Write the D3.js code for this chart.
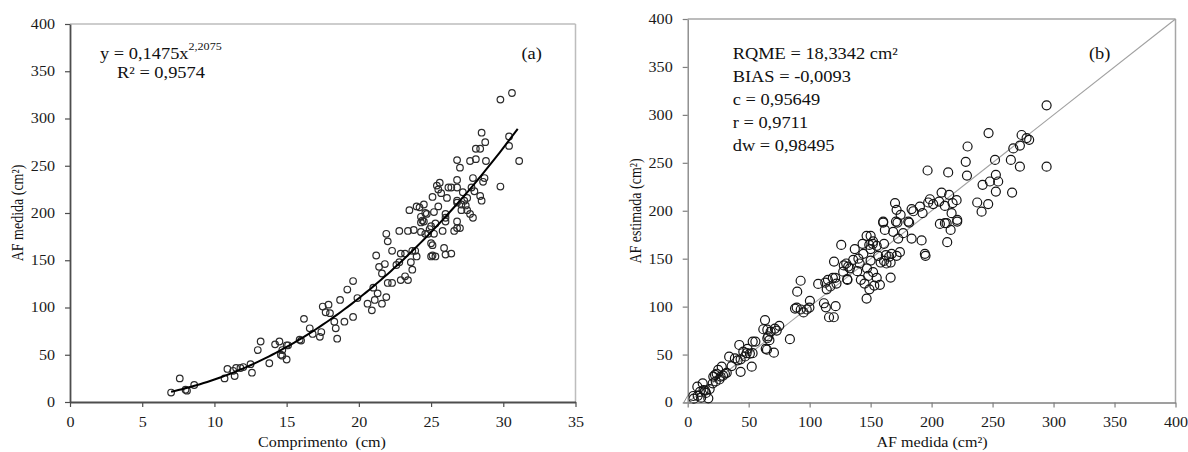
<!DOCTYPE html>
<html><head><meta charset="utf-8">
<script src="https://cdn.jsdelivr.net/npm/d3@7"></script>
<style>body{margin:0;background:#fff}svg{display:block;font-family:"Liberation Serif","Times New Roman",serif}</style>
</head><body><svg id="c" width="1188" height="452"></svg>
<script>
// ---- Data (a): comprimento (cm) vs AF medida (cm²)
const comprimento = [7.0,7.6,8.0,8.1,8.6,10.7,10.9,11.3,11.4,11.5,11.8,12.0,12.5,12.6,13.0,13.2,13.8,14.2,14.5,14.6,14.7,14.7,15.0,15.0,15.1,15.9,16.0,16.2,16.6,16.8,17.3,17.4,17.5,17.7,17.9,18.0,18.3,18.4,18.5,18.7,19.0,19.2,19.6,19.6,19.9,20.6,20.9,21.0,21.1,21.2,21.3,21.4,21.6,21.6,21.8,21.9,21.9,22.0,22.0,22.3,22.3,22.6,22.8,22.8,22.9,22.9,23.2,23.2,23.4,23.4,23.5,23.6,23.7,23.7,23.8,23.9,24.0,24.0,24.2,24.3,24.3,24.3,24.4,24.5,24.5,24.6,24.6,24.7,24.8,24.9,25.0,25.0,25.0,25.1,25.1,25.1,25.2,25.2,25.3,25.3,25.4,25.5,25.5,25.6,25.7,25.8,25.9,26.0,26.0,26.0,26.0,26.1,26.2,26.4,26.4,26.6,26.8,26.8,26.8,26.8,26.8,26.8,26.8,27.0,27.0,27.1,27.1,27.2,27.3,27.4,27.5,27.5,27.7,27.7,27.8,27.9,27.9,28.0,28.1,28.1,28.4,28.4,28.5,28.5,28.6,28.7,28.75,28.8,29.8,29.8,30.4,30.4,30.6,31.1];
const afMedidaA = [10,25,13,12,18,25,35,33,27.5,36,36,37,40,31,55,64,41,61,64,50,49,55,60,45,60,66,65,88,78,72,69,74,101,95,103,94,85,78,67,108,85,119,128,90,110,104,97,121,108,155,115,143,136,104,146,111,178,170,126,160,126,145,148,181,157,129,133,157,129,181,203,148,140,160,182,160,154,207,206,190,196,180,192,209,191,200,178,199,178,183,168,154,186,166,217,155,201,178,189,154,229,225,207,232,221,181,163,199,195,191,156,216,227,227,157,181,256,235,227,213,211,191,184,248,184,209,203,222,213,208,216,203,255,199,227,237,195,223,268,257,268,218,285,213,233,237,275,255,320,228,281,271,327,255];
const coefA = 0.1475, expoA = 2.2075;
const fitRange = [7, 31];

// ---- Data (b): AF medida vs AF estimada (cm²)
const afMedidaB = [4.6,5,7.9,8.2,10,11,12.3,13,14.2,15,16.9,18,20.5,21,22.4,23,23.8,25,26,27,27.9,29,30.5,32,34,36,38.7,41,42.3,43.4,43.4,45.6,47,48.3,49,51,52.5,53.2,53.3,55.5,
62,63.4,64,65,65.3,65.3,66,67,68,70.7,71.5,73,75.1,83.8,88,89.4,89.8,92.6,92.7,95,97.6,99.8,
100.2,107,111.7,112.8,113.3,114,115,115.9,117,119,119.8,120,121,121.3,122,125.9,127.5,128,130,130.8,131,131.6,133,135.7,137,139,140,141,142,143.4,144,145,146.7,146.7,147,148,148.9,149,150,150,150,151.8,152,152,153,155,155,156.2,
157.6,158.2,160.3,160.3,161,161,161.7,162.5,163,165.2,166.4,166.4,167.2,168.5,170,170.8,171.3,171.3,172,172.6,174,174.6,176.7,180.9,181.6,183.6,183.6,185,190.4,191.8,192.6,194.5,195,196.7,197.2,198.6,201.3,206.2,206.8,208.2,210.9,210.9,212.3,212.8,213.6,214.4,215.6,216.4,217.2,220.5,221,221,
228,229,229.5,237.4,241,241.8,246.4,246.7,247.8,252,252.7,252.7,254.6,265,266,267,272.4,272.4,273.8,277.9,280,294.3,294.3];
const afEstimadaB = [6.8,4,16.5,7,11,5,20,13,12.3,10,4.4,14,20,27,28.8,22,30,34,24,27,37.4,28,30,31,47.8,38,46,44,60,45,32,53,48,51.4,56,51,37.4,51.4,63.5,63.5,
76.4,86,56,55,76,67,69,65,74,52,77,75,80,66,98,99,115.6,127,97,94,97,99,
106,123.7,103.5,125,99.3,118,128,88.9,121,130,88.9,147,130,100.5,124,164.4,136.5,143,145,128.6,128,141.8,140,148.7,160,137,150,145,128,165.5,155,124,173.8,108.4,140,132,164.4,118,173.8,148,160,165.5,136,168,122,163.4,130,153,
122.7,146,187.7,188.7,165.5,147.7,180,153.7,145,152,130.3,146,155,178,208,188.7,201,153,187.7,171,156.8,195.7,176.6,188.7,187.7,171,201.7,199.5,204.4,169,197.5,155,153,242,208.6,212,207,209.6,186.3,219,187,205,187,167.2,240,216.6,180,197.5,208,211,188.7,190.5,
251,236.7,267,208.6,199,227,207,281,230.5,253,237.5,220,230.5,253,219,265,268,246,279,275.8,274,310,246];

const ticksA_x = [0,5,10,15,20,25,30,35];
const ticksY = [0,50,100,150,200,250,300,350,400];
const ticksB_x = [0,50,100,150,200,250,300,350,400];

const SX = 1.15; // horizontal stretch of the lettering in the reference
const svg = d3.select('#c');

function txt(g, x, y, s, size, anchor, rot) {
  const t = g.append('text')
    .attr('transform', rot ? `translate(${x},${y}) rotate(-90) scale(1,${SX})` : `translate(${x},${y}) scale(${SX},1)`)
    .attr('font-size', size).attr('fill', '#111')
    .attr('text-anchor', anchor || 'start');
  if (s != null) t.text(s);
  return t;
}

function panel(cfg) {
  const g = svg.append('g');
  const x = d3.scaleLinear().domain(cfg.xDomain).range(cfg.xRange);
  const y = d3.scaleLinear().domain([0, 400]).range(cfg.yRange);
  g.append('line').attr('x1', cfg.xRange[0]).attr('x2', cfg.xRange[1]).attr('y1', cfg.yRange[1]).attr('y2', cfg.yRange[1])
    .attr('stroke', cfg.frameColor).attr('stroke-width', 1.5);
  g.append('line').attr('x1', cfg.xRange[1]).attr('x2', cfg.xRange[1]).attr('y1', cfg.yRange[0]).attr('y2', cfg.yRange[1])
    .attr('stroke', cfg.frameColor).attr('stroke-width', 1.5);
  const ax = g.append('g').attr('transform', `translate(0,${cfg.yRange[0]})`)
    .call(d3.axisBottom(x).tickValues(cfg.xTicks).tickSize(5).tickSizeOuter(0).tickFormat(d3.format('d')));
  const ay = g.append('g').attr('transform', `translate(${cfg.xRange[0]},0)`)
    .call(d3.axisLeft(y).tickValues(ticksY).tickSize(5).tickSizeOuter(0).tickFormat(d3.format('d')));
  [ax, ay].forEach(a => {
    a.select('.domain').attr('stroke', cfg.axisColor).attr('stroke-width', cfg.axisWidth);
    a.selectAll('.tick line').attr('stroke', cfg.axisColor).attr('stroke-width', 1.2);
    a.selectAll('text').attr('font-family', '"Liberation Serif",serif').attr('font-size', 14).attr('fill', '#1a1a1a');
  });
  ax.selectAll('text').attr('y', 25).attr('dy', '0').attr('transform', `scale(${SX},1)`);
  ay.selectAll('text').attr('x', -15 / SX).attr('transform', `scale(${SX},1)`);
  return {g, x, y};
}

// ---------- Panel (a)
const A = panel({xDomain: [0, 35], xRange: [70, 575.5], yRange: [402, 24], xTicks: ticksA_x,
  frameColor: '#bdbdbd', axisColor: '#4d4d4d', axisWidth: 1.8});
const ptsA = comprimento.map((c, i) => [c, afMedidaA[i]]);
A.g.append('g').selectAll('circle').data(ptsA).join('circle')
  .attr('cx', d => A.x(d[0])).attr('cy', d => A.y(d[1])).attr('r', 3.3)
  .attr('fill', 'none').attr('stroke', '#2b2b2b').attr('stroke-width', 1.2);
const fitXs = d3.range(fitRange[0], fitRange[1] + 0.001, 0.25);
A.g.append('path').datum(fitXs)
  .attr('d', d3.line().x(d => A.x(d)).y(d => A.y(coefA * Math.pow(d, expoA))))
  .attr('fill', 'none').attr('stroke', '#000').attr('stroke-width', 2);
const eq = txt(A.g, 100, 59, null, 16);
eq.append('tspan').text('y = 0,1475x');
eq.append('tspan').attr('dy', -9).attr('font-size', 10.5).text('2,2075');
txt(A.g, 117, 78, 'R² = 0,9574', 16);
txt(A.g, 521.5, 59, '(a)', 16);
txt(A.g, 322, 447, 'Comprimento  (cm)', 14, 'middle').attr('xml:space', 'preserve').style('white-space', 'pre');
txt(A.g, 23, 213, 'AF medida (cm²)', 14, 'middle', true);

// ---------- Panel (b)
const B = panel({xDomain: [0, 400], xRange: [687.7, 1175.5], yRange: [402.5, 19], xTicks: ticksB_x,
  frameColor: '#a6a6a6', axisColor: '#7f7f7f', axisWidth: 1.3});
B.g.append('line').attr('x1', B.x(0)).attr('y1', B.y(0)).attr('x2', B.x(400)).attr('y2', B.y(400))
  .attr('stroke', '#a0a0a0').attr('stroke-width', 1.1);
const ptsB = afMedidaB.map((m, i) => [m, afEstimadaB[i]]);
B.g.append('g').selectAll('circle').data(ptsB).join('circle')
  .attr('cx', d => B.x(d[0])).attr('cy', d => B.y(d[1])).attr('r', 4.5)
  .attr('fill', 'none').attr('stroke', '#141414').attr('stroke-width', 1.2);
B.g.append('path').attr('d', d3.symbol(d3.symbolTriangle, 30)())
  .attr('transform', `translate(${B.x(0)},${B.y(0) - 2})`)
  .attr('fill', 'none').attr('stroke', '#8a8a8a').attr('stroke-width', 1);
const statLines = ['RQME = 18,3342 cm²', 'BIAS = -0,0093', 'c = 0,95649', 'r = 0,9711', 'dw = 0,98495'];
statLines.forEach((s, i) => txt(B.g, 732.7, 59 + i * 23, s, 16));
txt(B.g, 1089, 59, '(b)', 16);
txt(B.g, 932, 447, 'AF medida (cm²)', 14, 'middle');
txt(B.g, 641, 211, 'AF estimada (cm²)', 14, 'middle', true);
</script></body></html>
